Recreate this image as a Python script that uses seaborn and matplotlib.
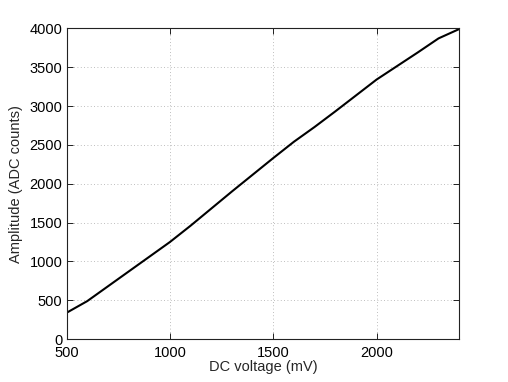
import numpy as np
import pandas as pd
import matplotlib
matplotlib.use("Agg")
import matplotlib.pyplot as plt
import seaborn as sns

# DC voltage sweep (mV) and measured amplitude (ADC counts)
dc_voltage = [500, 600, 700, 800, 900, 1000, 1100, 1200, 1300, 1400,
              1500, 1600, 1700, 1800, 1900, 2000, 2100, 2200, 2300, 2400]
amplitude = [340, 490, 680, 870, 1060, 1250, 1460, 1680, 1900, 2115,
             2330, 2540, 2730, 2930, 3135, 3340, 3515, 3690, 3870, 3990]

x_ticks = [500, 1000, 1500, 2000]
y_ticks = [0, 500, 1000, 1500, 2000, 2500, 3000, 3500, 4000]

df = pd.DataFrame({"dc": dc_voltage, "amp": amplitude})

sns.set_style("ticks")
plt.rcParams["font.family"] = ["Liberation Sans", "DejaVu Sans"]
plt.rcParams["font.size"] = 10.5

fig = plt.figure(figsize=(5.08, 3.82), dpi=100)
ax = fig.add_axes([0.131, 0.112, 0.773, 0.814])

sns.lineplot(data=df, x="dc", y="amp", ax=ax, color="black", linewidth=1.5)

ax.set_xlim(500, 2400)
ax.set_ylim(0, 4000)
ax.set_xticks(x_ticks)
ax.set_yticks(y_ticks)
ax.grid(True, linestyle=(0, (1, 3)), color="#a8a8a8", linewidth=0.6)
ax.tick_params(direction="in", length=4, width=0.6, top=True, right=True,
               labelsize=10.5, colors="black")
ax.tick_params(axis="x", pad=5)
ax.tick_params(axis="y", pad=3)
for s in ax.spines.values():
    s.set_visible(True)
    s.set_linewidth(0.8)
    s.set_color("#222222")

ax.set_xlabel("DC voltage (mV)", fontsize=10.5, labelpad=0)
ax.set_ylabel("Amplitude (ADC counts)", fontsize=10.5, labelpad=5)

fig.savefig("out.png", dpi=100)
